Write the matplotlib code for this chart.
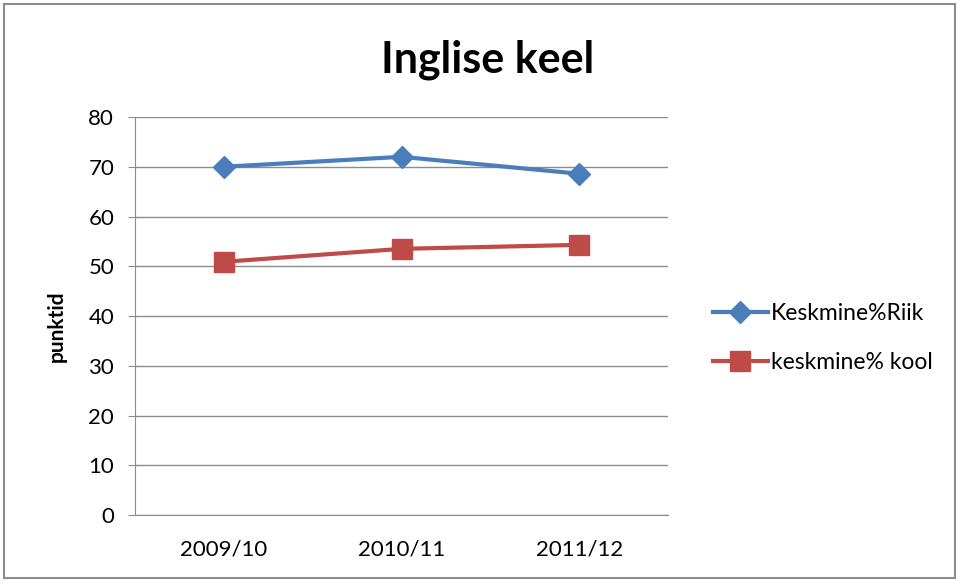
import matplotlib.pyplot as plt
from matplotlib.patches import Rectangle

# data
years = ['2009/10', '2010/11', '2011/12']
riik = [70, 72, 68.6]
kool = [50.9, 53.5, 54.3]

plt.rcParams['font.family'] = ['Lato', 'DejaVu Sans']

fig = plt.figure(figsize=(9.59, 5.81), dpi=100)
fig.patches.append(Rectangle((0.004, 0.005), 0.992, 0.988, transform=fig.transFigure,
                             fill=False, edgecolor='#8c8c8c', linewidth=1.5))

ax = fig.add_axes([0.1408, 0.1136, 0.5558, 0.685])
x = range(len(years))
ax.plot(x, riik, color='#4A7EBB', linewidth=3, marker='D', markersize=11,
        label='Keskmine%Riik')
ax.plot(x, kool, color='#BE4B48', linewidth=3, marker='s', markersize=14,
        label='keskmine% kool')

ax.set_xlim(-0.5, 2.5)
ax.set_ylim(0, 80)
ax.set_yticks(range(0, 81, 10))
ax.set_xticks(list(x))
ax.set_xticklabels(years)
ax.grid(axis='y', color='#8c8c8c', linewidth=1)
ax.set_axisbelow(True)
for s in ['top', 'right']:
    ax.spines[s].set_visible(False)
for s in ['left', 'bottom']:
    ax.spines[s].set_color('#8c8c8c')
ax.tick_params(axis='y', labelsize=16, length=5, color='#8c8c8c', pad=10)
ax.tick_params(axis='x', labelsize=16, length=0, pad=18)

ax.set_ylabel('punktid', fontsize=15, fontweight='bold')
ax.yaxis.set_label_coords(-0.128, 0.475)
fig.text(0.508, 0.897, 'Inglise keel', ha='center', va='center',
         fontsize=31, fontweight='bold')

ax.legend(loc='center left', bbox_to_anchor=(1.045, 0.445), frameon=False,
          fontsize=16.5, handlelength=2.4, labelspacing=1.25, handletextpad=0.15)

fig.savefig('out.png', dpi=100)
